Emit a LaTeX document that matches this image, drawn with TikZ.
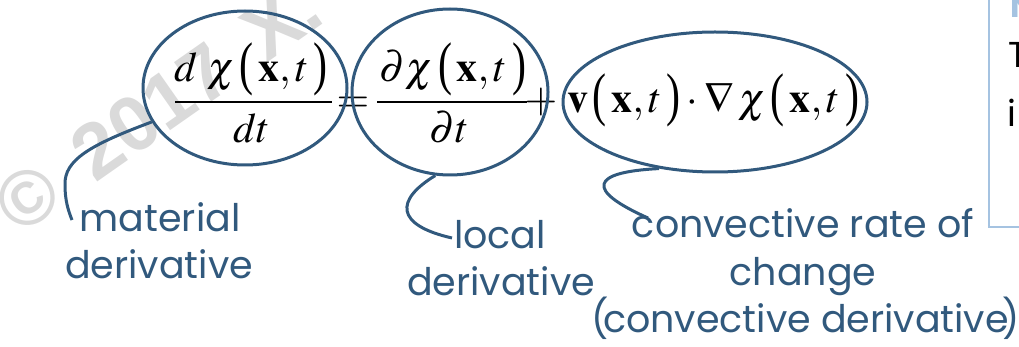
\documentclass[tikz,border=0pt]{standalone}
\usepackage{amsmath}
\usepackage{mathptmx}
\usepackage[no-math]{fontspec}
\setmainfont{Liberation Serif}
\newfontfamily\labfont{Poppins}
\newfontfamily\wmfont{Liberation Sans}
\usetikzlibrary{shapes.geometric}
\definecolor{slate}{RGB}{49,89,125}
\definecolor{wmgray}{RGB}{218,218,218}
\definecolor{boxblue}{RGB}{165,195,225}
\newcommand\PL{\mathopen{\text{\raisebox{-1.5pt}{\scalebox{1}[1.4]{(}}}}}
\newcommand\PR{\mathclose{\text{\raisebox{-1.5pt}{\scalebox{1}[1.4]{)}}}}}
\begin{document}
\begin{tikzpicture}[x=1pt,y=-1pt,
  mathnode/.style={inner sep=0pt,anchor=base,font=\fontsize{42}{46}\selectfont},
  fracbar/.style={line width=1.5pt},
  ell/.style={ellipse,draw=slate,line width=3pt,inner sep=0pt},
  conn/.style={draw=slate,line width=3pt},
  lab/.style={text=slate,font=\labfont\fontsize{38}{47}\selectfont,inner sep=0pt,anchor=base},
  boxtxt/.style={font=\labfont\fontsize{36}{36}\selectfont,inner sep=0pt,anchor=base west}]
\useasboundingbox (0,0) rectangle (1019,347);
\clip (0,0) rectangle (1019,347);
% watermark
\node[rotate=35,text=wmgray,font=\wmfont\bfseries\fontsize{78}{78}\selectfont,inner sep=0pt] (wm) at (158,107) {©\hspace{0.45em}2017\hspace{0.45em}X.};
% equation
\node[mathnode] (n1) at (251,82) {$d\;\chi\,\PL\,\mathbf{x},t\,\PR$};
\node[mathnode] (d1) at (252,143) {$dt$};
\draw[fracbar] (175,102) -- (332,102);
\node[mathnode] (eq) at (353,113) {$=$};
\node[mathnode] (n2) at (453,82) {$\partial\chi\,\PL\,\mathbf{x},t\,\PR$};
\node[mathnode] (d2) at (449,143) {$\partial t$};
\draw[fracbar] (377,102) -- (527,102);
\node[mathnode] (pl) at (541,113) {$+$};
\node[mathnode] (t3) at (713,113) {$\mathbf{v}\,\PL\,\mathbf{x},t\,\PR\cdot\nabla\,\chi\,\PL\,\mathbf{x},t\,\PR$};
% ellipses
\node[ell,minimum width=204pt,minimum height=154pt] (e1) at (245,88) {};
\node[ell,minimum width=196pt,minimum height=166pt] (e2) at (450,92) {};
\node[ell,minimum width=304pt,minimum height=140pt] (e3) at (715,102) {};
% labels
\node[lab] (l1a) at (160,232) {material};
\node[lab] (l1b) at (159,278) {derivative};
\node[lab] (l2a) at (500,248) {local};
\node[lab] (l2b) at (501,295) {derivative};
\node[lab] (l3a) at (803,237) {convective rate of};
\node[lab] (l3b) at (803,285) {change};
\node[lab] (l3c) at (806,332) {(\kern-6pt convective derivative\kern-6pt)};
% connectors
\coordinate (c1) at (72,220);
\coordinate (c2) at (452,238);
\coordinate (c3) at (648,218);
\draw[conn] (e1.200) .. controls (90,145) and (64,160) .. (65,185) .. controls (65,200) and (68,210) .. (c1);
\draw[conn] (e2.260) .. controls (395,200) and (395,225) .. (c2);
\draw[conn] (e3.230) .. controls (590,172) and (585,190) .. (c3);
% box at right
\draw[draw=boxblue,line width=1.5pt] (989,-5) -- (989,227) -- (1030,227);
\node[boxtxt,text=boxblue,font=\labfont\bfseries\fontsize{32}{32}\selectfont] (bh) at (1010,18) {N};
\node[boxtxt] (bt1) at (1008,68) {T};
\node[boxtxt] (bt2) at (1007,127) {i};
\end{tikzpicture}
\end{document}
